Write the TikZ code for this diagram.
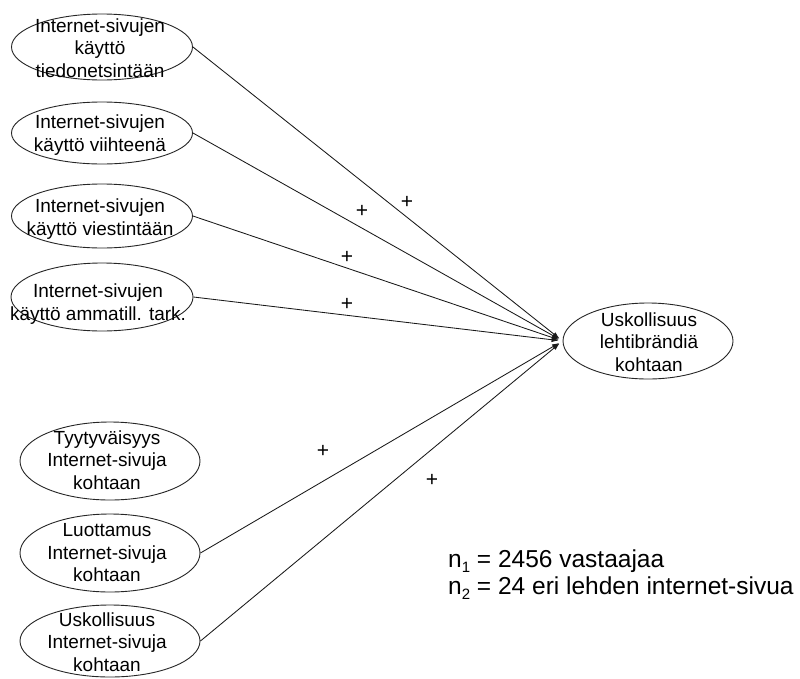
\documentclass[tikz,border=0pt]{standalone}
\usepackage{fontspec}
\setmainfont{Liberation Sans}
\usetikzlibrary{shapes.geometric,arrows.meta}

\tikzset{
  oval/.style={draw=black!85, line width=0.9pt, ellipse, inner sep=0pt},
  ovaltext/.style={align=center, inner sep=0pt, font=\fontsize{19}{22.5}\selectfont},
  conn/.style={draw=black!90, line width=0.85pt, -{Latex[length=7pt,width=5pt]}, shorten >=4pt},
  sign/.style={inner sep=0pt, font=\fontsize{21}{21}\selectfont},
  note/.style={inner sep=0pt, anchor=base west, font=\fontsize{24.5}{27}\selectfont}
}
\newcommand{\lowidx}[1]{\raisebox{-5pt}{\fontsize{15}{15}\selectfont #1}}

\begin{document}
\begin{tikzpicture}[x=1pt, y=-1pt]
  \useasboundingbox[fill=white] (0,0) rectangle (800,678);

  % usage-of-site ellipses
  \node[oval, minimum width=181pt, minimum height=66pt] (e1) at (102,47) {};
  \node[oval, minimum width=181pt, minimum height=62pt] (e2) at (102,133) {};
  \node[oval, minimum width=181pt, minimum height=64pt] (e3) at (102,216) {};
  \node[oval, minimum width=182pt, minimum height=68pt] (e4) at (102,297) {};

  % attitude ellipses
  \node[oval, minimum width=180pt, minimum height=78pt] (e5) at (110,461) {};
  \node[oval, minimum width=180pt, minimum height=78pt] (e6) at (110,553) {};
  \node[oval, minimum width=180pt, minimum height=72pt] (e7) at (110,641) {};

  % outcome ellipse
  \node[oval, minimum width=170pt, minimum height=76pt] (tgt) at (648,341) {};

  % ellipse texts
  \node[ovaltext] (t1) at (100,48) {Internet-sivujen\\käyttö\\tiedonetsintään};
  \node[ovaltext] (t2) at (100,135) {Internet-sivujen\\käyttö viihteenä};
  \node[ovaltext] (t3) at (100,219) {Internet-sivujen\\käyttö viestintään};
  \node[ovaltext] (t4) at (98,304) {Internet-sivujen\\käyttö ammatill. tark.};
  \node[ovaltext] (t5) at (107,460) {Tyytyväisyys\\Internet-sivuja\\kohtaan};
  \node[ovaltext] (t6) at (107,553) {Luottamus\\Internet-sivuja\\kohtaan};
  \node[ovaltext] (t7) at (107,642) {Uskollisuus\\Internet-sivuja\\kohtaan};
  \node[ovaltext] (tt) at (649,342) {Uskollisuus\\lehtibrändiä\\kohtaan};

  % paths into the outcome
  \draw[conn] (e1.east) -- (tgt.west);
  \draw[conn] (e2.east) -- (tgt.west);
  \draw[conn] (e3.east) -- (tgt.west);
  \draw[conn] (e4.east) -- (tgt.west);
  \draw[conn] (e6.east) -- (tgt.west);
  \draw[conn] (e7.east) -- (tgt.west);

  % signs of the effects
  \node[sign] (p1) at (407,202) {+};
  \node[sign] (p2) at (362,211) {+};
  \node[sign] (p3) at (347,257) {+};
  \node[sign] (p4) at (347,304) {+};
  \node[sign] (p6) at (323,451) {+};
  \node[sign] (p7) at (432,480) {+};

  % sample sizes
  \node[note] (n1) at (448,567) {n\lowidx{1} = 2456 vastaajaa};
  \node[note] (n2) at (448,594) {n\lowidx{2} = 24 eri lehden internet-sivua};
\end{tikzpicture}
\end{document}
